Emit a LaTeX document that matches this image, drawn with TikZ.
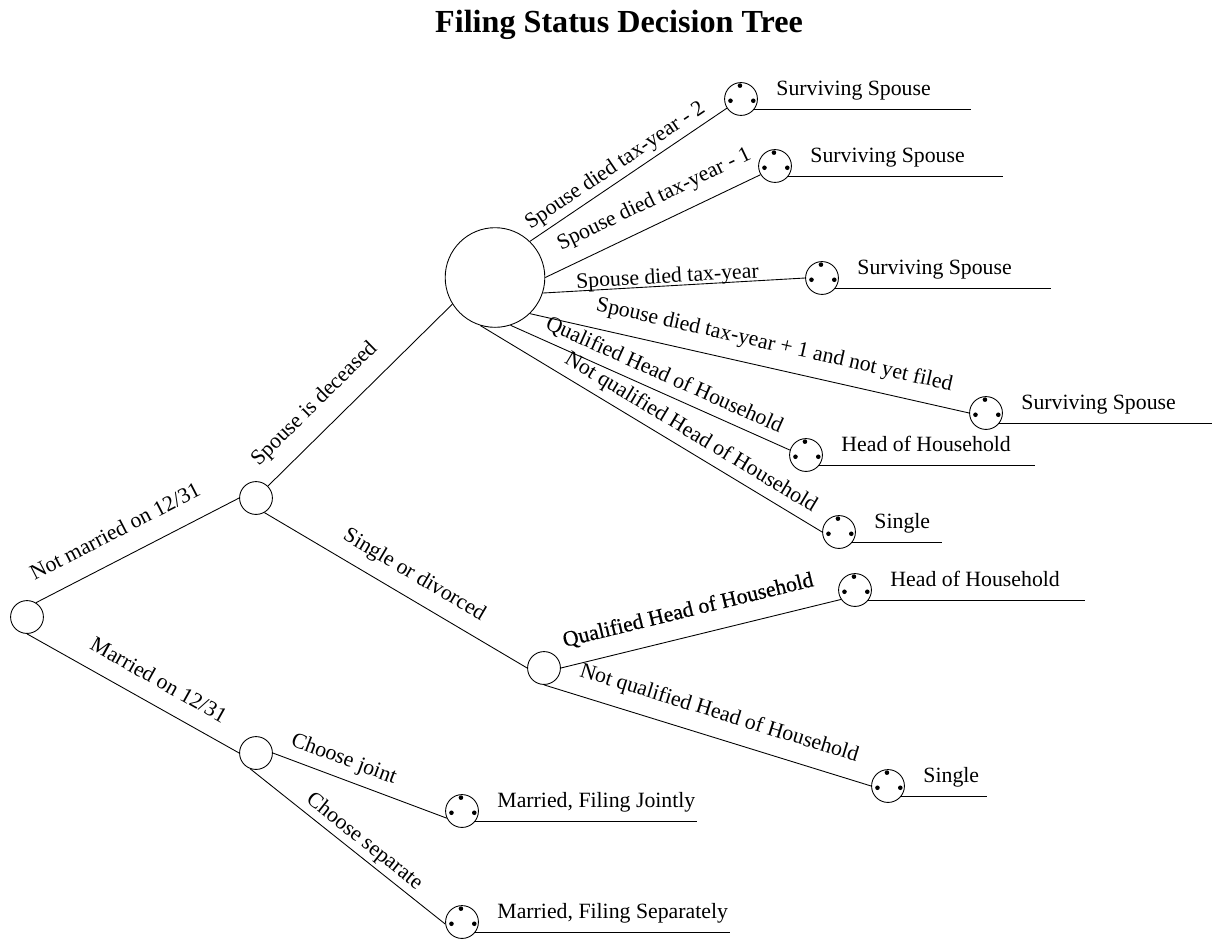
\documentclass[tikz,border=0pt]{standalone}
\usepackage{fontspec}
\setmainfont{Liberation Serif}
\newfontfamily\heavyserif[FakeBold=0.5]{Liberation Serif}
\usepackage{tikz}
\usetikzlibrary{shapes}
\tikzstyle{choice} = [draw, circle, inner sep=0pt, minimum size=18.7pt]
\tikzstyle{event} = [draw, circle, inner sep=0pt, minimum size=56.7pt]
\tikzstyle{leaf} = [draw, circle, inner sep=0pt, minimum size=18.7pt,
  path picture={
    \fill ([xshift=-0.6pt,yshift=7.6pt]path picture bounding box.center) circle (1.3pt);
    \fill ([xshift=-6pt,yshift=-1pt]path picture bounding box.center) circle (1.3pt);
    \fill ([xshift=7pt,yshift=-1pt]path picture bounding box.center) circle (1.3pt);
  }]
\tikzstyle{lbl} = [sloped, inner sep=0pt, font=\fontsize{12.4}{14}\selectfont]
\tikzstyle{result} = [anchor=base west, inner sep=0pt, font=\fontsize{12.4}{14}\selectfont]

\begin{document}
\begin{tikzpicture}[x=0.02cm, y=-0.02cm, line width=0.5pt]
      \useasboundingbox (0,0) rectangle (1212,940);

      \node[anchor=base, font=\fontsize{18.3}{22}\selectfont\bfseries] (title) at (619,32.5) {Filing Status Decision Tree};

      % decision points
      \node[choice] (root) at (27,617) {};
      \node[choice] (single) at (256,498) {};
      \node[choice] (married) at (256,753) {};
      \node[event] (deceased) at (495,277.5) {};
      \node[choice] (divorced) at (544,668) {};

      % end points
      \node[leaf] (ss1) at (741,99) {};
      \node[leaf] (ss2) at (775,166) {};
      \node[leaf] (ss3) at (822,278) {};
      \node[leaf] (ss4) at (986,413) {};
      \node[leaf] (hoh1) at (806,455) {};
      \node[leaf] (sgl1) at (839,532) {};
      \node[leaf] (hoh2) at (855,590) {};
      \node[leaf] (sgl2) at (888,786) {};
      \node[leaf] (mfj) at (462,811) {};
      \node[leaf] (mfs) at (462,922) {};

      % branches
      \draw (root.58) -- node[lbl, pos=.45, above=11pt] {Not married on 12/31} (single.west);
      \draw (root.south) -- node[lbl, pos=.565, above=9.5pt] {Married on 12/31} (married.west);
      \draw (single.45) -- node[lbl, pos=.35, above=8.6pt] {Spouse is deceased} (deceased.212);
      \draw (single.-60) -- node[lbl, pos=.527, above=6.7pt] {Single or divorced} (divorced.west);
      \draw (married.east) -- node[lbl, pos=.37, above=4.7pt] {Choose joint} (mfj.205);
      \draw (married.250) -- node[lbl, pos=.54, above=2pt] {Choose separate} (mfs.187);
      \draw (divorced.east) -- node[lbl, pos=.476, above=8.8pt] {\heavyserif Qualified Head of Household} (hoh2.214);
      \draw (divorced.south) -- node[lbl, pos=.514, above=7.7pt] {Not qualified Head of Household} (sgl2.west);
      \draw (deceased.46) -- node[lbl, pos=.475, above=2.3pt] {Spouse died tax-year - 2} (ss1.213);
      \draw (deceased.east) -- node[lbl, pos=.553, above=7.3pt] {Spouse died tax-year - 1} (ss2.211);
      \draw (deceased.-18) -- node[lbl, pos=.477, above=-1.3pt] {Spouse died tax-year} (ss3.west);
      \draw (deceased.-46) -- node[lbl, pos=.545, above=7.1pt] {Spouse died tax-year + 1 and not yet filed} (ss4.west);
      \draw (deceased.-72) -- node[lbl, pos=.526, above=4pt] {Qualified Head of Household} (hoh1.163);
      \draw (deceased.-107) -- node[lbl, pos=.59, above=3.7pt] {Not qualified Head of Household} (sgl1.west);

      % outcomes
      \node[result] (ss1txt) at (776,95) {Surviving Spouse};
      \draw (ss1.-37) -- ++(217,0);
      \node[result] (ss2txt) at (810,162) {Surviving Spouse};
      \draw (ss2.-37) -- ++(215,0);
      \node[result] (ss3txt) at (857,274) {Surviving Spouse};
      \draw (ss3.-37) -- ++(216,0);
      \node[result] (ss4txt) at (1021,409) {Surviving Spouse};
      \draw (ss4.-37) -- ++(213,0);
      \node[result] (hoh1txt) at (841,451) {Head of Household};
      \draw (hoh1.-37) -- ++(216,0);
      \node[result] (sgl1txt) at (874,528) {Single};
      \draw (sgl1.-37) -- ++(90,0);
      \node[result] (hoh2txt) at (890,586) {Head of Household};
      \draw (hoh2.-37) -- ++(217,0);
      \node[result] (sgl2txt) at (923,782) {Single};
      \draw (sgl2.-37) -- ++(86,0);
      \node[result] (mfjtxt) at (497,807) {Married, Filing Jointly};
      \draw (mfj.-37) -- ++(222,0);
      \node[result] (mfstxt) at (497,918) {Married, Filing Separately};
      \draw (mfs.-37) -- ++(255,0);
    \end{tikzpicture}
\end{document}
